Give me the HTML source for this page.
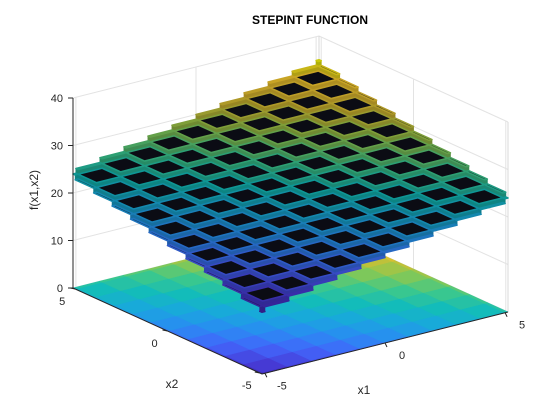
<!DOCTYPE html>
<html><head><meta charset="utf-8"><style>
body{margin:0;background:#fff}
svg{display:block;font-family:"Liberation Sans",sans-serif}
</style></head><body>
<svg id="c" width="560" height="420" viewBox="0 0 560 420">
<rect width="560" height="420" fill="#fff"/>
<text x="310" y="24" text-anchor="middle" font-size="12" font-weight="bold" fill="#000">STEPINT FUNCTION</text>
<g id="grid"></g>
<g id="floor"></g>
<g id="surf"></g>
<g id="axes"></g>
</svg>
<script>
const edges = [-5.12,-5,-4,-3,-2,-1,0,1,2,3,4,5,5.12];
const zTicks = [0,10,20,30,40];
const x1Ticks = [-5,0,5];
const x2Ticks = [-5,0,5];
const zValues = [
[13,14,15,16,17,18,19,20,21,22,23,24],
[14,15,16,17,18,19,20,21,22,23,24,25],
[15,16,17,18,19,20,21,22,23,24,25,26],
[16,17,18,19,20,21,22,23,24,25,26,27],
[17,18,19,20,21,22,23,24,25,26,27,28],
[18,19,20,21,22,23,24,25,26,27,28,29],
[19,20,21,22,23,24,25,26,27,28,29,30],
[20,21,22,23,24,25,26,27,28,29,30,31],
[21,22,23,24,25,26,27,28,29,30,31,32],
[22,23,24,25,26,27,28,29,30,31,32,33],
[23,24,25,26,27,28,29,30,31,32,33,34],
[24,25,26,27,28,29,30,31,32,33,34,35]
];
const NS='http://www.w3.org/2000/svg';
const XMIN=-5.12,XMAX=5.12;
function P(x1,x2,z){const a=(x1-XMIN)/(XMAX-XMIN),b=(x2-XMIN)/(XMAX-XMIN);
 return [262+a*246-b*189, 374-a*62-b*86-z*4.75];}
const stops=[[62,38,168],[71,60,216],[66,102,250],[41,140,242],[25,168,220],[19,188,186],[60,200,140],[140,200,80],[210,190,50],[250,200,50],[249,251,14]];
let zmin=Infinity,zmax=-Infinity;zValues.forEach(r=>r.forEach(v=>{zmin=Math.min(zmin,v);zmax=Math.max(zmax,v);}));
function col(v,k){let t=(v-zmin)/(zmax-zmin||1)*10;let i=Math.min(9,Math.floor(t)),f=t-i;
 const c=stops[i].map((s,n)=>Math.round((s+(stops[i+1][n]-s)*f)*(k||1)));return `rgb(${c})`;}
function poly(g,pts,fill,stroke,sw,name){const p=document.createElementNS(NS,'polygon');
 p.setAttribute('points',pts.map(q=>q.join(',')).join(' '));p.setAttribute('fill',fill);
 if(stroke){p.setAttribute('stroke',stroke);p.setAttribute('stroke-width',sw);p.setAttribute('stroke-linejoin','round');}
 
 
 g.appendChild(p);return p;}
function line(g,a,b,stroke,w,name){const l=document.createElementNS(NS,'line');
 l.setAttribute('x1',a[0]);l.setAttribute('y1',a[1]);l.setAttribute('x2',b[0]);l.setAttribute('y2',b[1]);
 l.setAttribute('stroke',stroke);l.setAttribute('stroke-width',w);
 
 
 g.appendChild(l);}
function text(g,x,y,s,anchor,size,name){const t=document.createElementNS(NS,'text');
 t.setAttribute('x',x);t.setAttribute('y',y);t.setAttribute('text-anchor',anchor);t.setAttribute('font-size',size);t.setAttribute('fill','#262626');
 t.textContent=s;
 
 
 g.appendChild(t);return t;}
const G=document.getElementById('grid'),F=document.getElementById('floor'),S=document.getElementById('surf'),A=document.getElementById('axes');
const ZT=zTicks[zTicks.length-1];
zTicks.forEach(z=>{line(G,P(XMIN,XMAX,z),P(XMAX,XMAX,z),'#e3e3e3',1,'grid-line-z');line(G,P(XMAX,XMAX,z),P(XMAX,XMIN,z),'#e3e3e3',1,'grid-line-z');});
x1Ticks.forEach(x=>line(G,P(x,XMAX,0),P(x,XMAX,ZT),'#e3e3e3',1,'grid-line-x1'));
x2Ticks.forEach(x=>line(G,P(XMAX,x,0),P(XMAX,x,ZT),'#e3e3e3',1,'grid-line-x2'));
line(G,P(XMAX,XMAX,0),P(XMAX,XMAX,ZT),'#d8d8d8',1,'box-edge');
line(G,P(XMAX,XMIN,0),P(XMAX,XMIN,ZT),'#d8d8d8',1,'box-edge');
const n=edges.length-1;
for(let i=0;i<n;i++)for(let j=0;j<n;j++){const v=zValues[i][j];
 const c=col(v);poly(F,[P(edges[i],edges[j],0),P(edges[i+1],edges[j],0),P(edges[i+1],edges[j+1],0),P(edges[i],edges[j+1],0)],c,c,0.6,'floor-cell');}
const cells=[];for(let i=0;i<n;i++)for(let j=0;j<n;j++)cells.push([i,j]);
cells.sort((a,b)=>(b[0]+b[1])-(a[0]+a[1]));
cells.forEach(([i,j])=>{const v=zValues[i][j];
 const x0=edges[i],x1=edges[i+1],y0=edges[j],y1=edges[j+1];
 if(i>0){const zl=zValues[i-1][j];poly(S,[P(x0,y0,v),P(x0,y1,v),P(x0,y1,zl),P(x0,y0,zl)],col(v,0.7),col(v,0.7),0.8,'riser');}
 if(j>0){const zl=zValues[i][j-1];poly(S,[P(x0,y0,v),P(x1,y0,v),P(x1,y0,zl),P(x0,y0,zl)],col(v,0.7),col(v,0.7),0.8,'riser');}
 poly(S,[P(x0,y0,v),P(x1,y0,v),P(x1,y1,v),P(x0,y1,v)],'#0b0c14',col(v,0.8),1.6,'surface-step');
});
line(A,P(XMIN,XMAX,0),P(XMIN,XMAX,ZT),'#262626',1,'z-axis-line');
line(A,P(XMIN,XMAX,0),P(XMIN,XMIN,0),'#262626',1,'x2-axis-line');
line(A,P(XMIN,XMIN,0),P(XMAX,XMIN,0),'#262626',1,'x1-axis-line');
zTicks.forEach(z=>{const p=P(XMIN,XMAX,z);line(A,p,[p[0]-5,p[1]],'#262626',1,'z-tick');text(A,p[0]-10,p[1]+4,String(z),'end',11,'z-tick-label');});
x2Ticks.forEach(x=>{const p=P(XMIN,x,0);line(A,p,[p[0]-5,p[1]-1],'#262626',1,'x2-tick');text(A,p[0]-13,p[1]+16,String(x),'middle',11,'x2-tick-label');});
x1Ticks.forEach(x=>{const p=P(x,XMIN,0);line(A,p,[p[0]+2,p[1]+4],'#262626',1,'x1-tick');text(A,p[0]+17,p[1]+16,String(x),'middle',11,'x1-tick-label');});
text(A,172,388,'x2','middle',12,'x2-axis-title');
text(A,364,394,'x1','middle',12,'x1-axis-title');
const zt=text(A,0,0,'f(x1,x2)','middle',12,'z-axis-title');zt.setAttribute('transform','translate(38,190) rotate(-90)');
</script>
</body></html>
